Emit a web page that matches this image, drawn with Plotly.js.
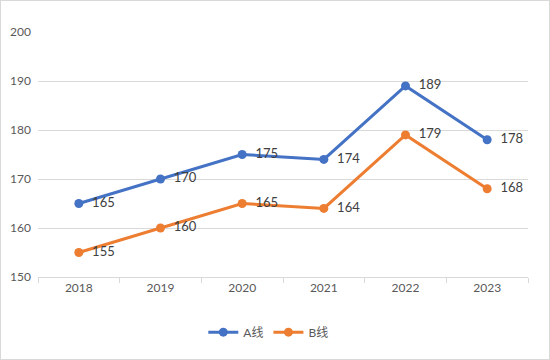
<!DOCTYPE html>
<html><head><meta charset="utf-8">
<script src="https://cdn.plot.ly/plotly-3.0.1.min.js"></script>
<style>
html,body{margin:0;padding:0;background:#fff;}
#c{width:548px;height:358px;border:1px solid #d9d9d9;}
</style></head>
<body><div id="c"></div>
<script>
const years = ['2018','2019','2020','2021','2022','2023'];
const seriesA = [165,170,175,174,189,178];
const seriesB = [155,160,165,164,179,168];
const nameA = 'A线', nameB = 'B线';
const font = 'Lato, "Noto Sans CJK SC", sans-serif';
function tr(name, y, color){
  return {x: years, y: y, name: name, type:'scatter', mode:'lines+markers+text',
    line:{color:color, width:3}, marker:{color:color, size:9},
    text: y.map(v => '\u00a0\u00a0' + v), textposition:'middle right',
    textfont:{family:font, size:13, color:'#404040'}, cliponaxis:false};
}
Plotly.newPlot('c', [tr(nameA, seriesA, '#4472C4'), tr(nameB, seriesB, '#ED7D31')], {
  width:548, height:358,
  margin:{l:37, r:21, t:31, b:82},
  paper_bgcolor:'#fff', plot_bgcolor:'#fff',
  font:{family:font, color:'#595959', size:12},
  xaxis:{type:'category', range:[-0.5, 5.5], showgrid:false, showline:true, linecolor:'#d9d9d9', linewidth:1,
    ticks:'outside', tickson:'boundaries', ticklen:5, tickcolor:'#d9d9d9',
    tickfont:{size:12, color:'#595959'}},
  yaxis:{range:[150,200], dtick:10, showgrid:true, gridcolor:'#d9d9d9', gridwidth:1,
    showline:false, zeroline:false, ticks:'', ticklabelstandoff:6, tickfont:{size:12, color:'#595959'}},
  showlegend:true,
  legend:{orientation:'h', x:0.47, xanchor:'center', y:-0.225, yanchor:'middle',
    font:{size:12, color:'#595959'}, itemwidth:30}
}, {displayModeBar:false, staticPlot:true});
</script></body></html>
